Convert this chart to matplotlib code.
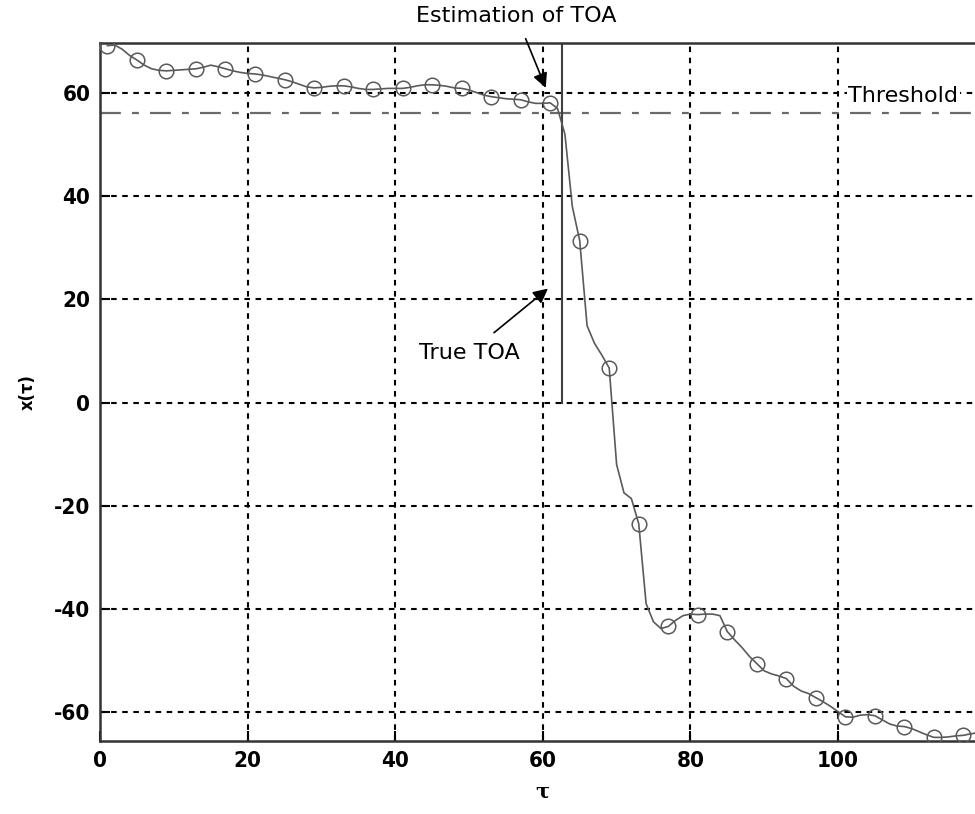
import numpy as np
import matplotlib.pyplot as plt

plt.rcParams['lines.scale_dashes'] = False

# Correlation output x(tau) sampled at every tau
tau = np.arange(1, 120)
x_tau = [69.2, 69.3, 68.5, 67.3, 66.4, 65.4, 64.7, 64.4, 64.3, 64.4,
         64.5, 64.6, 64.7, 65.0, 65.4, 65.1, 64.7, 64.3, 64.0, 63.8,
         63.7, 63.5, 63.2, 62.9, 62.6, 62.2, 61.7, 61.2, 61.0, 61.1,
         61.3, 61.4, 61.4, 61.2, 60.9, 60.7, 60.7, 60.8, 60.9, 60.9,
         60.9, 61.1, 61.4, 61.6, 61.6, 61.5, 61.3, 61.0, 60.9, 60.6,
         60.1, 59.6, 59.3, 59.1, 58.9, 58.8, 58.7, 58.3, 58.0, 58.0,
         58.1, 57.0, 52.0, 38.0, 31.4, 14.9, 11.5, 9.2, 6.7, -12.0,
         -17.5, -18.6, -23.5, -39.0, -42.5, -43.8, -43.4, -42.2, -41.3, -41.0,
         -41.1, -41.0, -41.0, -41.3, -44.4, -46.0, -47.5, -49.2, -50.6, -52.0,
         -52.6, -53.0, -53.5, -55.0, -55.9, -56.4, -57.2, -58.0, -58.9, -59.9,
         -60.9, -61.0, -60.6, -60.5, -60.7, -61.5, -62.3, -62.7, -62.8, -63.2,
         -63.8, -64.4, -64.9, -64.9, -64.8, -64.6, -64.5, -64.2, -64.0]

threshold = 56.2
true_toa = 62.6
xticks = [0, 20, 40, 60, 80, 100]
yticks = [-60, -40, -20, 0, 20, 40, 60]

fig = plt.figure(figsize=(9.75, 8.14), dpi=100)
ax = fig.add_axes([100 / 975, 73 / 814, 885.6 / 975, 698 / 814])

# signal with a circle on every 4th sample
ax.plot(tau, x_tau, color='#5a5a5a', lw=1.2, marker='o', markevery=4,
        markersize=10.5, markerfacecolor='none', markeredgecolor='#5a5a5a',
        markeredgewidth=1.1, zorder=3)

# threshold and true time of arrival
ax.axhline(threshold, color='#6a6a6a', lw=1.6, linestyle=(0, (15, 8, 5, 8)), zorder=2)
ax.plot([true_toa, true_toa], [0, 75], color='#404040', lw=1.5, zorder=2)

ax.set_xlim(0, 120)
ax.set_ylim(-65.6, 69.7)
ax.set_xticks(xticks)
ax.set_yticks(yticks)

tick_font = dict(family=['DejaVu Sans'], stretch='condensed', weight='bold', size=16)
ax.set_xticklabels([str(v) for v in xticks], fontdict=tick_font)
ax.set_yticklabels([str(v) for v in yticks], fontdict=tick_font)
ax.tick_params(direction='in', length=7, width=1.5, pad=7, colors='black')

ax.grid(True, color='black', lw=1.5, linestyle=(0, (4, 4)))
for side in ['left', 'bottom', 'top', 'right']:
    ax.spines[side].set_linewidth(1.8)
    ax.spines[side].set_color('#333333')

ax.set_xlabel('τ', fontdict=dict(family=['DejaVu Serif'], weight='bold', size=15), labelpad=8)
ax.set_ylabel('x(τ)', fontdict=dict(family=['DejaVu Sans'], stretch='condensed', weight='bold', size=13),
              labelpad=12)

# annotations
ax.annotate('Estimation of TOA', xy=(60.4, 61.0), xytext=(56.4, 75.0),
            ha='center', va='center', fontsize=16, annotation_clip=False,
            arrowprops=dict(arrowstyle='-|>', color='black', lw=1.2,
                            mutation_scale=22, shrinkA=8, shrinkB=0))
ax.annotate('True TOA', xy=(60.7, 22.1), xytext=(50.1, 9.7),
            ha='center', va='center', fontsize=16,
            arrowprops=dict(arrowstyle='-|>', color='black', lw=1.2,
                            mutation_scale=22, shrinkA=8, shrinkB=0))
ax.text(101.4, 59.5, 'Threshold', ha='left', va='center', fontsize=16, zorder=4,
        bbox=dict(facecolor='white', edgecolor='none', pad=1))

plt.savefig('out.png', dpi=100)
